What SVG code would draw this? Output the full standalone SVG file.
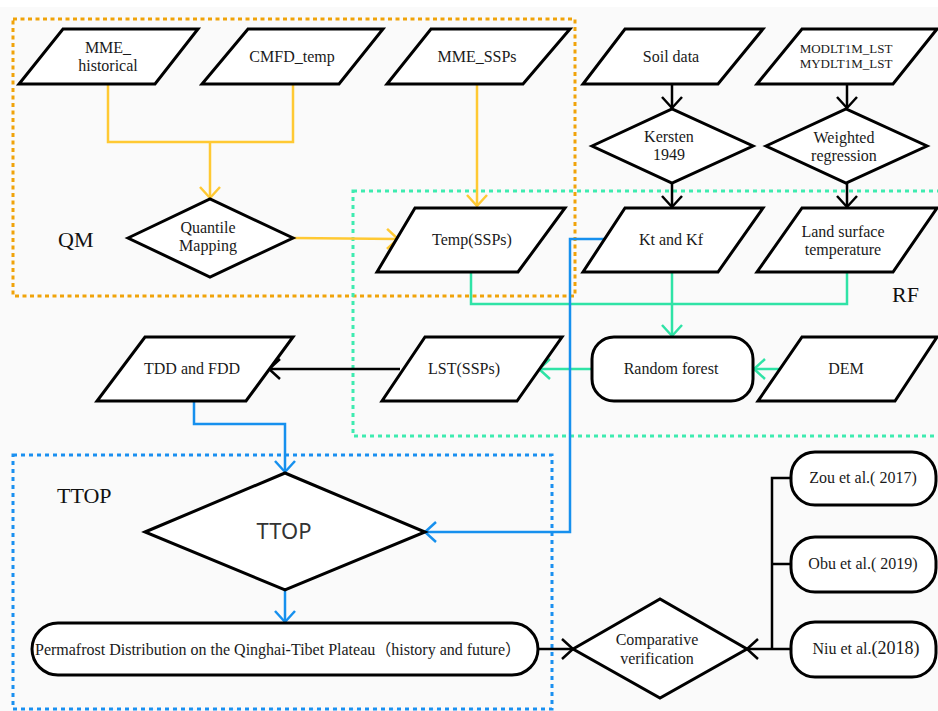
<svg xmlns="http://www.w3.org/2000/svg" width="938" height="711" viewBox="0 0 938 711">
<style>
.sh{fill:#fff;stroke:#000;stroke-width:3;stroke-linejoin:miter}
.t{font-family:"Liberation Serif","Noto Sans CJK SC",serif;font-size:16px;fill:#1a1a1a;text-anchor:middle}
.lbl{font-family:"Liberation Serif",serif;font-size:22px;fill:#111}
.cy{fill:none;stroke:#FFC933;stroke-width:2.5}
.cg{fill:none;stroke:#2FE3A6;stroke-width:2.5}
.cb{fill:none;stroke:#1690EE;stroke-width:2.5}
.ck{fill:none;stroke:#000;stroke-width:2.5}
</style>
<defs>
<marker id="ay" markerUnits="userSpaceOnUse" markerWidth="14" markerHeight="24" viewBox="-12 -12 14 24" refX="0" refY="0" orient="auto" overflow="visible"><path d="M-11,-10 L0,0 L-11,10" fill="none" stroke="#FFC933" stroke-width="2.5"/></marker>
<marker id="ag" markerUnits="userSpaceOnUse" markerWidth="14" markerHeight="24" viewBox="-12 -12 14 24" refX="0" refY="0" orient="auto" overflow="visible"><path d="M-11,-10 L0,0 L-11,10" fill="none" stroke="#2FE3A6" stroke-width="2.5"/></marker>
<marker id="ab" markerUnits="userSpaceOnUse" markerWidth="14" markerHeight="24" viewBox="-12 -12 14 24" refX="0" refY="0" orient="auto" overflow="visible"><path d="M-11,-10 L0,0 L-11,10" fill="none" stroke="#1690EE" stroke-width="2.5"/></marker>
<marker id="ak" markerUnits="userSpaceOnUse" markerWidth="14" markerHeight="24" viewBox="-12 -12 14 24" refX="0" refY="0" orient="auto" overflow="visible"><path d="M-11,-10 L0,0 L-11,10" fill="none" stroke="#000" stroke-width="2.5"/></marker>
</defs>
<rect x="0" y="0" width="938" height="711" fill="#fff"/>
<rect x="0" y="7" width="938" height="704" fill="#fafafa"/>

<g id="groups">
<rect x="13" y="19" width="562" height="277" fill="none" stroke="#F0A30A" stroke-width="3" stroke-dasharray="4 3.5"/>
<rect x="353" y="191" width="600" height="245" fill="none" stroke="#3EEBB0" stroke-width="3" stroke-dasharray="4 4"/>
<rect x="13" y="455" width="539" height="254" fill="none" stroke="#1A90F0" stroke-width="3" stroke-dasharray="4 4"/>
<text class="lbl" x="58" y="247">QM</text>
<text class="lbl" x="892" y="302">RF</text>
<text class="lbl" x="57" y="503">TTOP</text>
</g>

<g id="connectors">
<path class="cy" d="M108,84 V142 H293 V84"/>
<path class="cy" d="M210,142 V198" marker-end="url(#ay)"/>
<path class="cy" d="M477,84 V206" marker-end="url(#ay)"/>
<path class="cy" d="M293,238 L398,239" marker-end="url(#ay)"/>
<path class="cg" d="M471,272 V304 H847 V272"/>
<path class="cg" d="M672,272 V336" marker-end="url(#ag)"/>
<path class="cg" d="M780,369 H754" marker-end="url(#ag)"/>
<path class="cg" d="M592,369 H539" marker-end="url(#ag)"/>
<path class="ck" d="M672,84 V108" marker-end="url(#ak)"/>
<path class="ck" d="M847,84 V108" marker-end="url(#ak)"/>
<path class="ck" d="M672,183 V207" marker-end="url(#ak)"/>
<path class="ck" d="M847,183 V207" marker-end="url(#ak)"/>
<path class="ck" d="M400,369 H269" marker-end="url(#ak)"/>
<path class="ck" d="M538,649 H573" marker-end="url(#ak)"/>
<path class="ck" d="M791,649 H747" marker-end="url(#ak)"/>
<path class="ck" d="M791,478 H772 V649 M772,564 H791"/>
<path class="cb" d="M194,401 V424 H285 V472" marker-end="url(#ab)"/>
<path class="cb" d="M604,239 H570 V532 H425" marker-end="url(#ab)"/>
<path class="cb" d="M285,590 V622" marker-end="url(#ab)"/>
</g>

<g id="mme_historical"><polygon class="sh" points="63,29 198,29 155,84 19,84"/><text class="t" x="108" y="53">MME_</text><text class="t" x="108" y="71">historical</text></g>
<g id="cmfd_temp"><polygon class="sh" points="248,29 383,29 339,84 202,84"/><text class="t" x="292" y="62">CMFD_temp</text></g>
<g id="mme_ssps"><polygon class="sh" points="431,29 570,29 523,84 387,84"/><text class="t" x="477" y="62">MME_SSPs</text></g>
<g id="soil_data"><polygon class="sh" points="625,29 763,29 718,84 583,84"/><text class="t" x="671" y="62">Soil data</text></g>
<g id="modlt1m"><polygon class="sh" points="802,29 937,29 893,84 757,84"/><text class="t" x="846" y="53" style="font-size:13px">MODLT1M_LST</text><text class="t" x="846" y="68" style="font-size:13px">MYDLT1M_LST</text></g>
<g id="kersten"><polygon class="sh" points="592,146 672,109 753,146 672,183"/><text class="t" x="669" y="142">Kersten</text><text class="t" x="669" y="160">1949</text></g>
<g id="weighted"><polygon class="sh" points="766,146 846,109 927,146 846,183"/><text class="t" x="844" y="143">Weighted</text><text class="t" x="844" y="161">regression</text></g>
<g id="quantile"><polygon class="sh" points="128,238 210,199 293,238 210,277"/><text class="t" x="208" y="233">Quantile</text><text class="t" x="208" y="251">Mapping</text></g>
<g id="temp_ssps"><polygon class="sh" points="415,208 565,208 518,272 377,272"/><text class="t" x="472" y="245">Temp(SSPs)</text></g>
<g id="kt_kf"><polygon class="sh" points="625,208 763,208 718,272 583,272"/><text class="t" x="671" y="245">Kt and Kf</text></g>
<g id="lst"><polygon class="sh" points="802,208 937,208 893,272 757,272"/><text class="t" x="843" y="237">Land surface</text><text class="t" x="843" y="255">temperature</text></g>
<g id="random_forest"><rect class="sh" x="592" y="337" width="161" height="64" rx="22"/><text class="t" x="671" y="374">Random forest</text></g>
<g id="dem"><polygon class="sh" points="802,337 937,337 895,401 758,401"/><text class="t" x="846" y="374">DEM</text></g>
<g id="lst_ssps"><polygon class="sh" points="425,337 562,337 517,401 382,401"/><text class="t" x="464" y="374">LST(SSPs)</text></g>
<g id="tdd_fdd"><polygon class="sh" points="145,337 293,337 246,401 97,401"/><text class="t" x="192" y="374">TDD and FDD</text></g>
<g id="ttop"><polygon class="sh" points="145,532 285,473 425,532 285,590"/><text x="284" y="539" style="font-family:'Noto Sans','DejaVu Sans',sans-serif;font-size:22px;fill:#333;text-anchor:middle">TTOP</text></g>
<g id="permafrost"><rect class="sh" x="32" y="623" width="506" height="52" rx="26"/><text class="t" x="278" y="655">Permafrost Distribution on the Qinghai-Tibet Plateau（history and future）</text></g>
<g id="comparative"><polygon class="sh" points="573,649 660,599 747,649 660,698"/><text class="t" x="657" y="645">Comparative</text><text class="t" x="657" y="664">verification</text></g>
<g id="zou"><rect class="sh" x="791" y="452" width="145" height="53" rx="24"/><text class="t" x="863" y="483">Zou et al.( 2017)</text></g>
<g id="obu"><rect class="sh" x="791" y="537" width="145" height="55" rx="24"/><text class="t" x="863" y="569">Obu et al.( 2019)</text></g>
<g id="niu"><rect class="sh" x="791" y="622" width="145" height="55" rx="24"/><text class="t" x="866" y="654">Niu et al.<tspan style="font-size:18px">(2018)</tspan></text></g>
</svg>
